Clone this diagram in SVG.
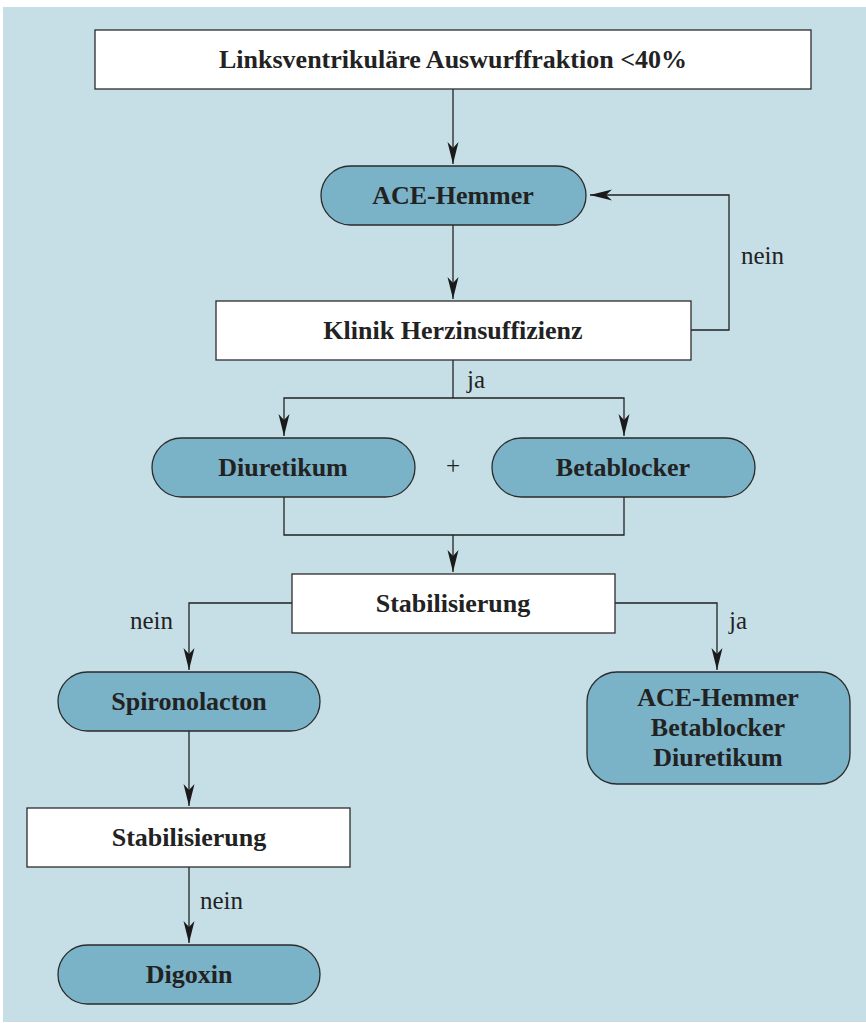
<svg xmlns="http://www.w3.org/2000/svg" width="866" height="1023" viewBox="0 0 866 1023">
<style>
.box{fill:#ffffff;stroke:#2b2b2b;stroke-width:1.3}
.pill{fill:#7ab3c8;stroke:#2b2b2b;stroke-width:1.3}
.t{font-family:"Liberation Serif",serif;font-weight:bold;font-size:26px;fill:#222;text-anchor:middle}
.l{font-family:"Liberation Serif",serif;font-size:25px;fill:#222}
.c{fill:none;stroke:#222;stroke-width:1.3}
</style>
<defs>
<marker id="ah" markerUnits="userSpaceOnUse" markerWidth="24" markerHeight="14" viewBox="-22 -7 24 14" refX="0" refY="0" orient="auto">
<path d="M0,0 L-22,-5.5 L-16,0 L-22,5.5 Z" fill="#1a1a1a"/>
</marker>
</defs>
<rect x="3" y="7" width="863" height="1015" fill="#c6dfe6"/>
<g id="connectors">
<path class="c" d="M453,89 V164" marker-end="url(#ah)"/>
<path class="c" d="M453,225 V299" marker-end="url(#ah)"/>
<path class="c" d="M691,330 H729 V195 H590" marker-end="url(#ah)"/>
<path class="c" d="M453,360 V398"/>
<path class="c" d="M453,398 H284 V436" marker-end="url(#ah)"/>
<path class="c" d="M453,398 H624 V436" marker-end="url(#ah)"/>
<path class="c" d="M284,497 V535 H624 V497"/>
<path class="c" d="M453,535 V572" marker-end="url(#ah)"/>
<path class="c" d="M292,603 H189 V670" marker-end="url(#ah)"/>
<path class="c" d="M615,603 H717 V670" marker-end="url(#ah)"/>
<path class="c" d="M189,731 V806" marker-end="url(#ah)"/>
<path class="c" d="M189,867 V943" marker-end="url(#ah)"/>
<text class="l" x="741" y="264">nein</text>
<text class="l" x="467" y="388">ja</text>
<text class="l" x="130" y="629">nein</text>
<text class="l" x="729" y="629">ja</text>
<text class="l" x="200" y="909">nein</text>
<text class="l" x="453" y="474" text-anchor="middle">+</text>
</g>
<g id="lvef">
<rect class="box" x="95" y="30" width="716" height="59"/>
<text class="t" x="453" y="68">Linksventrikuläre Auswurffraktion &lt;40%</text>
</g>
<g id="ace">
<rect class="pill" x="321" y="166" width="265" height="59" rx="29.5"/>
<text class="t" x="453" y="204">ACE-Hemmer</text>
</g>
<g id="klinik">
<rect class="box" x="216" y="301" width="475" height="59"/>
<text class="t" x="453" y="339">Klinik Herzinsuffizienz</text>
</g>
<g id="diuretikum">
<rect class="pill" x="152" y="438" width="263" height="59" rx="29.5"/>
<text class="t" x="283" y="476">Diuretikum</text>
</g>
<g id="betablocker">
<rect class="pill" x="492" y="438" width="263" height="59" rx="29.5"/>
<text class="t" x="623" y="476">Betablocker</text>
</g>
<g id="stab1">
<rect class="box" x="292" y="574" width="323" height="59"/>
<text class="t" x="453" y="612">Stabilisierung</text>
</g>
<g id="spironolacton">
<rect class="pill" x="58" y="672" width="262" height="59" rx="29.5"/>
<text class="t" x="189" y="710">Spironolacton</text>
</g>
<g id="combo">
<rect class="pill" x="587" y="672" width="263" height="112" rx="30"/>
<text class="t" x="718" y="706">ACE-Hemmer</text>
<text class="t" x="718" y="736">Betablocker</text>
<text class="t" x="718" y="766">Diuretikum</text>
</g>
<g id="stab2">
<rect class="box" x="27" y="808" width="323" height="59"/>
<text class="t" x="189" y="846">Stabilisierung</text>
</g>
<g id="digoxin">
<rect class="pill" x="58" y="945" width="262" height="59" rx="29.5"/>
<text class="t" x="189" y="983">Digoxin</text>
</g>
</svg>
